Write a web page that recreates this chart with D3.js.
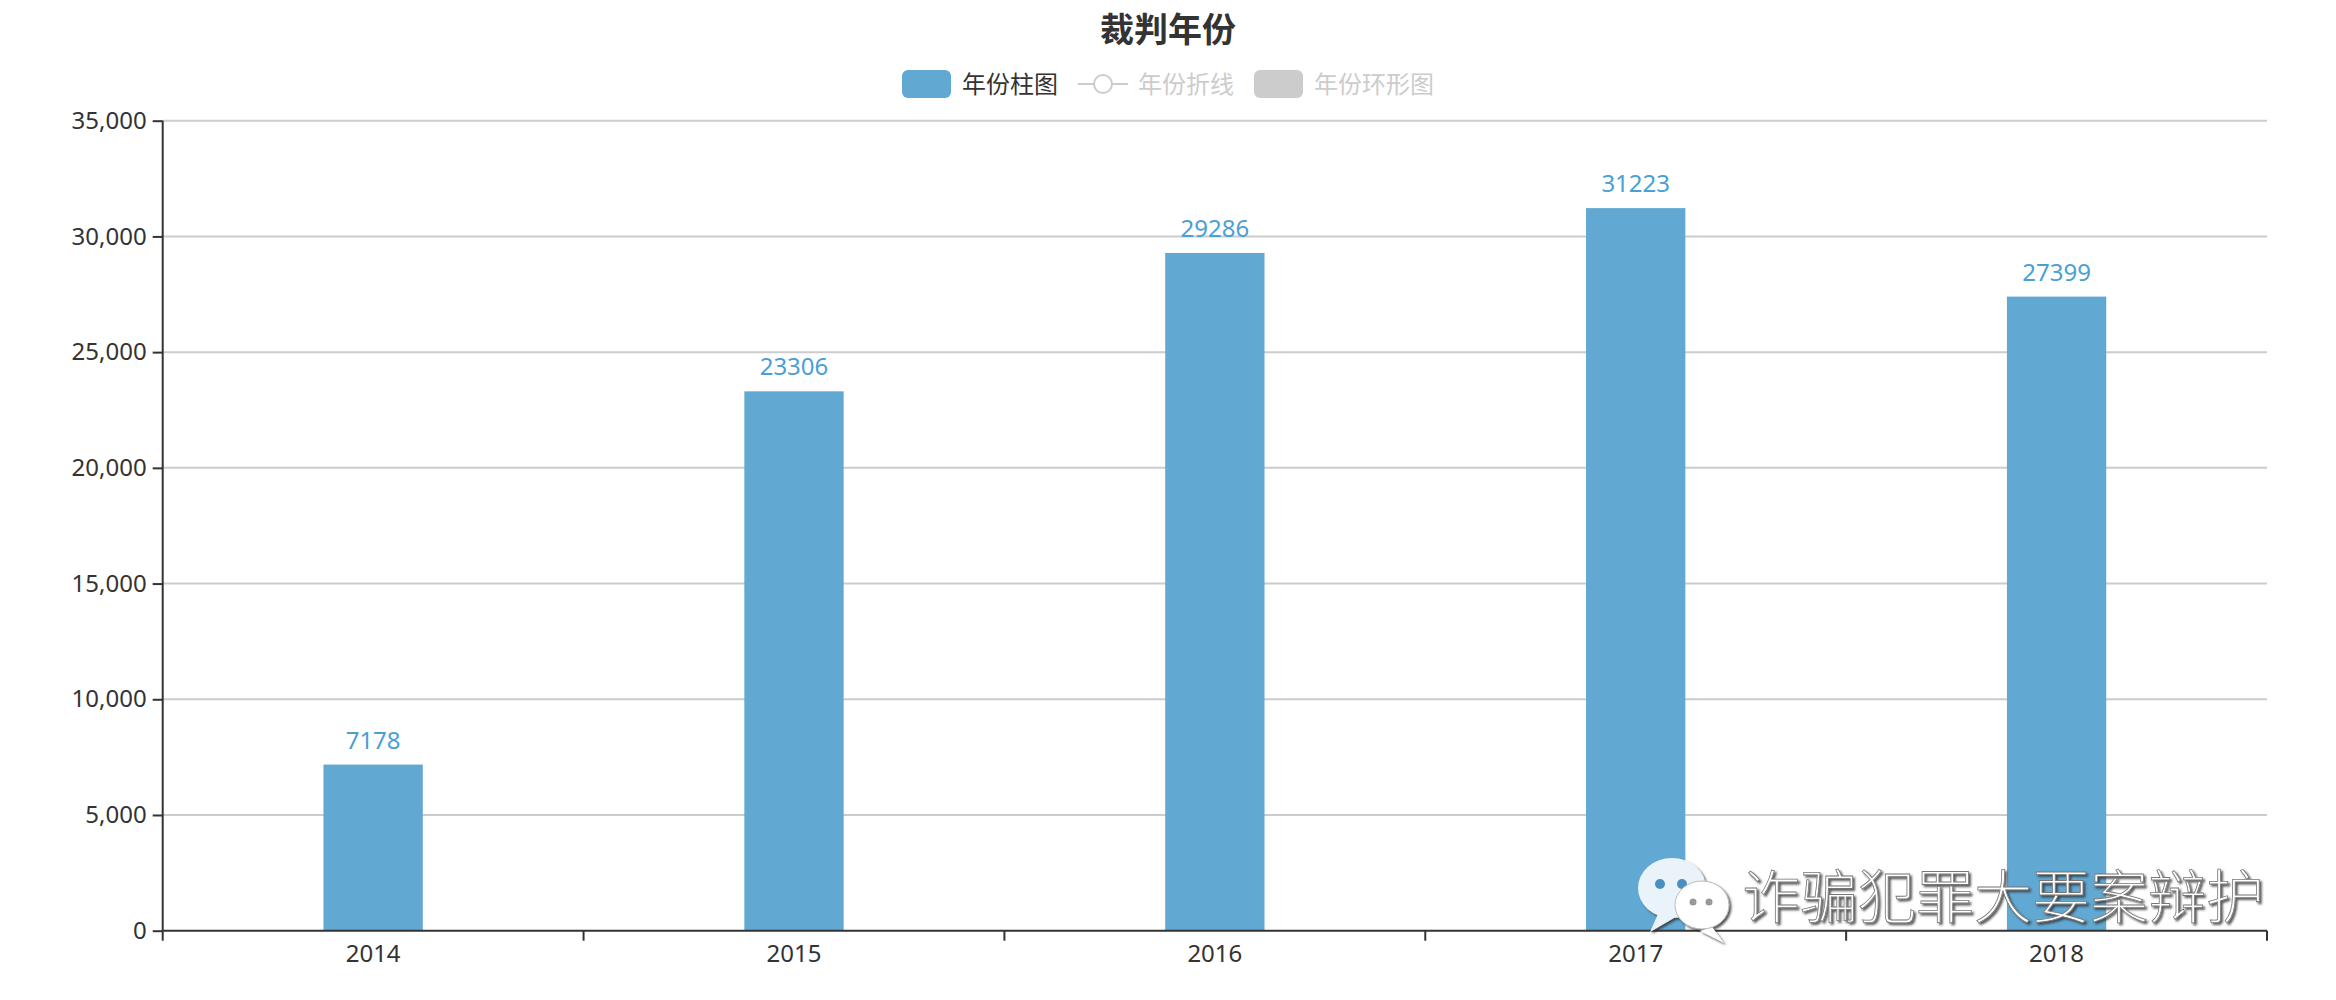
<!DOCTYPE html>
<html>
<head>
<meta charset="utf-8">
<title>裁判年份</title>
<script src="https://cdn.jsdelivr.net/npm/d3@7"></script>
<style>
    body { margin: 0; background: #fff; }
    svg { display: block; }
</style>
</head>
<body>
<script>
(function () {
    var years = ["2014", "2015", "2016", "2017", "2018"];
    var caseCounts = [7178, 23306, 29286, 31223, 27399];
    var yTicks = [0, 5000, 10000, 15000, 20000, 25000, 30000, 35000];
    var legendNames = ["年份柱图", "年份折线", "年份环形图"];
    var titleText = "裁判年份";
    var watermarkText = "诈骗犯罪大要案辩护";

    var width = 2336,
        height = 1000,
        left = 162.7,
        right = 2267,
        top = 120.7,
        bottom = 930.7;

    var barColor = "#61a8d2",
        labelColor = "#4a9fd4",
        textColor = "#333",
        offColor = "#ccc",
        numFont = "'Noto Sans', 'Noto Sans CJK SC', sans-serif",
        cjkFont = "'Noto Sans CJK SC', 'Noto Sans', sans-serif";

    var svg = d3.select("body")
        .append("svg")
        .attr("width", width)
        .attr("height", height);

    var x = d3.scaleBand()
        .domain(years)
        .range([left, right]);

    var y = d3.scaleLinear()
        .domain([0, 35000])
        .range([bottom, top]);

    // title
    svg.append("text")
        .attr("x", width / 2)
        .attr("y", 42)
        .attr("text-anchor", "middle")
        .style("font-family", cjkFont)
        .style("font-weight", "bold")
        .style("font-size", "34px")
        .style("fill", textColor)
        .text(titleText);

    drawLegend();

    // grid lines
    svg.append("g")
        .selectAll("line")
        .data(yTicks.slice(1))
        .enter()
        .append("line")
        .attr("x1", left)
        .attr("x2", right)
        .attr("y1", function (d) { return y(d); })
        .attr("y2", function (d) { return y(d); })
        .style("stroke", offColor)
        .style("stroke-width", 2);

    // y axis
    var yAxis = d3.axisLeft(y)
        .tickValues(yTicks)
        .tickSize(10)
        .tickPadding(6)
        .tickFormat(d3.format(","));

    var yg = svg.append("g")
        .attr("transform", "translate(" + left + ",0)")
        .call(yAxis);
    yg.select(".domain").attr("d", "M0," + top + "V" + bottom);
    styleAxis(yg);

    // bars
    var barWidth = x.bandwidth() * 0.236;
    svg.append("g")
        .selectAll("rect")
        .data(caseCounts)
        .enter()
        .append("rect")
        .attr("x", function (d, i) { return x(years[i]) + (x.bandwidth() - barWidth) / 2; })
        .attr("width", barWidth)
        .attr("y", function (d) { return y(d); })
        .attr("height", function (d) { return bottom - y(d); })
        .style("fill", barColor);

    // value labels
    svg.append("g")
        .selectAll("text")
        .data(caseCounts)
        .enter()
        .append("text")
        .attr("x", function (d, i) { return x(years[i]) + x.bandwidth() / 2; })
        .attr("y", function (d) { return y(d) - 16; })
        .attr("text-anchor", "middle")
        .style("font-family", numFont)
        .style("font-size", "24px")
        .style("fill", labelColor)
        .text(function (d) { return d; });

    // x axis, ticks on category boundaries
    var xg = svg.append("g")
        .attr("transform", "translate(0," + bottom + ")")
        .call(d3.axisBottom(x).tickSize(0).tickPadding(14));
    styleAxis(xg);
    xg.select(".domain").attr("d", "M" + left + ",0H" + right);

    var bounds = years.map(function (d) { return x(d); }).concat([right]);
    xg.selectAll(".bound")
        .data(bounds)
        .enter()
        .append("line")
        .attr("class", "bound")
        .attr("x1", function (d) { return d; })
        .attr("x2", function (d) { return d; })
        .attr("y1", 0)
        .attr("y2", 10)
        .style("stroke", textColor)
        .style("stroke-width", 2);

    drawWatermark();

    function styleAxis(g) {
        g.select(".domain")
            .style("stroke", textColor)
            .style("stroke-width", 2);
        g.selectAll(".tick line")
            .style("stroke", textColor)
            .style("stroke-width", 2);
        g.selectAll(".tick text")
            .style("font-family", numFont)
            .style("font-size", "24px")
            .style("fill", textColor);
    }

    function drawLegend() {
        var legend = svg.append("g")
            .attr("transform", "translate(902,70)");
        var cx = 0;

        // bar item (active)
        legend.append("rect")
            .attr("x", cx).attr("y", 0)
            .attr("width", 49).attr("height", 28)
            .attr("rx", 6)
            .style("fill", barColor);
        var t0 = legend.append("text")
            .attr("x", cx + 60).attr("y", 14)
            .attr("dy", "0.36em")
            .style("font-family", cjkFont)
            .style("font-size", "24px")
            .style("fill", textColor)
            .text(legendNames[0]);
        cx += 60 + t0.node().getComputedTextLength() + 20;

        // line item (off)
        legend.append("line")
            .attr("x1", cx).attr("x2", cx + 50)
            .attr("y1", 14).attr("y2", 14)
            .style("stroke", offColor)
            .style("stroke-width", 2);
        legend.append("circle")
            .attr("cx", cx + 25).attr("cy", 14)
            .attr("r", 9)
            .style("fill", "#fff")
            .style("stroke", offColor)
            .style("stroke-width", 2);
        var t1 = legend.append("text")
            .attr("x", cx + 60).attr("y", 14)
            .attr("dy", "0.36em")
            .style("font-family", cjkFont)
            .style("font-size", "24px")
            .style("fill", offColor)
            .text(legendNames[1]);
        cx += 60 + t1.node().getComputedTextLength() + 20;

        // pie item (off)
        legend.append("rect")
            .attr("x", cx).attr("y", 0)
            .attr("width", 49).attr("height", 28)
            .attr("rx", 6)
            .style("fill", offColor);
        legend.append("text")
            .attr("x", cx + 60).attr("y", 14)
            .attr("dy", "0.36em")
            .style("font-family", cjkFont)
            .style("font-size", "24px")
            .style("fill", offColor)
            .text(legendNames[2]);
    }

    function drawWatermark() {
        var defs = svg.append("defs");
        var f = defs.append("filter").attr("id", "wmShadow");
        f.append("feDropShadow")
            .attr("dx", 2).attr("dy", 2)
            .attr("stdDeviation", 0.8)
            .attr("flood-color", "#333")
            .attr("flood-opacity", 0.8);

        var wm = svg.append("g")
            .attr("filter", "url(#wmShadow)");

        // two chat bubbles
        var big = wm.append("g").attr("transform", "translate(1672,888)");
        big.append("path")
            .attr("d", "M-14,26 L-22,44 L2,30 Z")
            .style("fill", "#eaf3fa");
        big.append("ellipse")
            .attr("rx", 34).attr("ry", 30)
            .style("fill", "#eaf3fa");
        big.append("circle").attr("cx", -12).attr("cy", -4).attr("r", 5).style("fill", "#4a8fc0");
        big.append("circle").attr("cx", 10).attr("cy", -4).attr("r", 5).style("fill", "#4a8fc0");

        var small = wm.append("g").attr("transform", "translate(1702,905)");
        small.append("path")
            .attr("d", "M10,22 L22,38 L-2,26 Z")
            .style("fill", "#fff");
        small.append("ellipse")
            .attr("rx", 27).attr("ry", 24)
            .style("fill", "#fff")
            .style("stroke", "#bbb")
            .style("stroke-width", 1);
        small.append("circle").attr("cx", -9).attr("cy", -3).attr("r", 3.5).style("fill", "#999");
        small.append("circle").attr("cx", 7).attr("cy", -3).attr("r", 3.5).style("fill", "#999");

        wm.append("text")
            .attr("x", 1742)
            .attr("y", 918)
            .attr("textLength", 522)
            .style("font-family", cjkFont)
            .style("font-weight", 300)
            .style("font-size", "58px")
            .style("fill", "#fff")
            .style("stroke", "#777")
            .style("stroke-width", 0.8)
            .text(watermarkText);
    }
})();
</script>
</body>
</html>
